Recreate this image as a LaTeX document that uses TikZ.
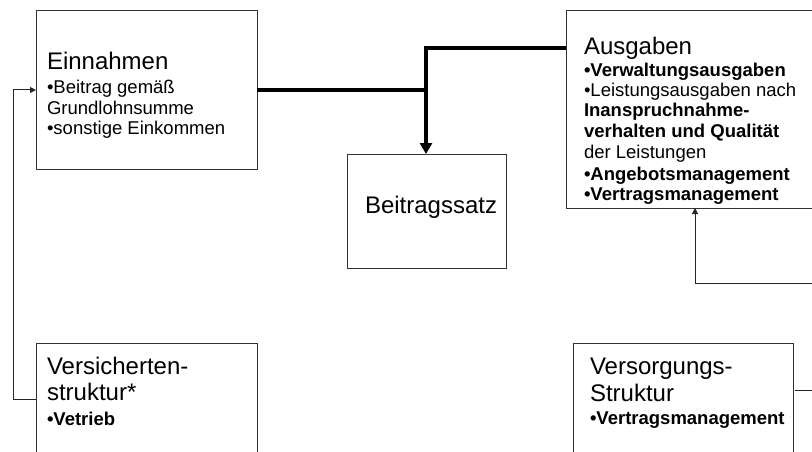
\documentclass[tikz,border=0pt]{standalone}
\usepackage{fontspec}
\setmainfont{Liberation Sans}
\usetikzlibrary{arrows.meta}
\begin{document}
\begin{tikzpicture}[x=1pt,y=-1pt,
  box/.style={draw=black!80, line width=1pt, inner sep=0pt, outer sep=0pt, rectangle},
  lbl/.style={anchor=base west, inner sep=0pt, outer sep=0pt, text=black},
  title/.style={lbl, font=\fontsize{24}{28}\selectfont},
  body/.style={lbl, font=\fontsize{18.5}{22}\selectfont},
  bodyb/.style={lbl, font=\fontsize{18.5}{22}\selectfont\bfseries},
  flow/.style={line width=4pt, line join=miter, draw=black},
  link/.style={line width=1pt, draw=black!85},
  thicktip/.style={-{Triangle[length=11pt,width=12pt]}},
  thintip/.style={-{Triangle[length=6pt,width=6pt]}}]
\useasboundingbox (0,0) rectangle (812,452);
\clip (0,0) rectangle (812,452);

% boxes
\node[box, minimum width=221pt, minimum height=158pt] (ein)  at (146.5,90) {};
\node[box, minimum width=159pt, minimum height=114pt] (beit) at (426.5,211) {};
\node[box, minimum width=274pt, minimum height=197pt] (aus)  at (703,109.5) {};
\node[box, minimum width=221pt, minimum height=137pt] (vst)  at (146.5,411.5) {};
\node[box, minimum width=220pt, minimum height=137pt] (vsg)  at (683,411.5) {};

% Einnahmen
\node[title] (ein1) at (47,70)  {Einnahmen};
\node[body]  (ein2) at (47,93)  {•Beitrag gemäß};
\node[body]  (ein3) at (47,114) {Grundlohnsumme};
\node[body]  (ein4) at (47,135) {•sonstige Einkommen};

% Beitragssatz
\node[title] (beit1) at (365,213) {Beitragssatz};

% Ausgaben
\node[title] (aus1) at (584,55)  {Ausgaben};
\node[bodyb] (aus2) at (584,77)  {•Verwaltungsausgaben};
\node[body]  (aus3) at (584,97)  {•Leistungsausgaben nach};
\node[bodyb] (aus4) at (584,117) {Inanspruchnahme-};
\node[bodyb] (aus5) at (584,138) {verhalten und Qualität};
\node[body]  (aus6) at (584,158) {der Leistungen};
\node[bodyb] (aus7) at (584,180) {•Angebotsmanagement};
\node[bodyb] (aus8) at (584,200) {•Vertragsmanagement};

% Versichertenstruktur
\node[title] (vst1) at (47,374) {Versicherten-};
\node[title] (vst2) at (47,400) {struktur*};
\node[bodyb] (vst3) at (47,425) {•Vetrieb};

% Versorgungsstruktur
\node[title] (vsg1) at (590,374) {Versorgungs-};
\node[title] (vsg2) at (590,401) {Struktur};
\node[bodyb] (vsg3) at (590,424) {•Vertragsmanagement};

% junction and routing points
\coordinate (j)  at (426,48);
\coordinate (lv) at (13,399);
\coordinate (ra) at (695,283);
\coordinate (r1) at (820,283);
\coordinate (r2) at (820,390);

% thick flows into the contribution rate
\draw[flow] (ein.east) -- (ein.east -| j);
\draw[flow, thicktip] (aus.west |- j) -- (j) -- (j |- beit.north);

% thin feedback links
\draw[link, thintip] (vst.west |- lv) -- (lv) -- (lv |- ein.west) -- (ein.west);
\draw[link, thintip] (r1) -- (ra) -- (ra |- aus.south);
\draw[link] ([xshift=2pt]vsg.east |- r2) -- (r2);
\end{tikzpicture}
\end{document}
